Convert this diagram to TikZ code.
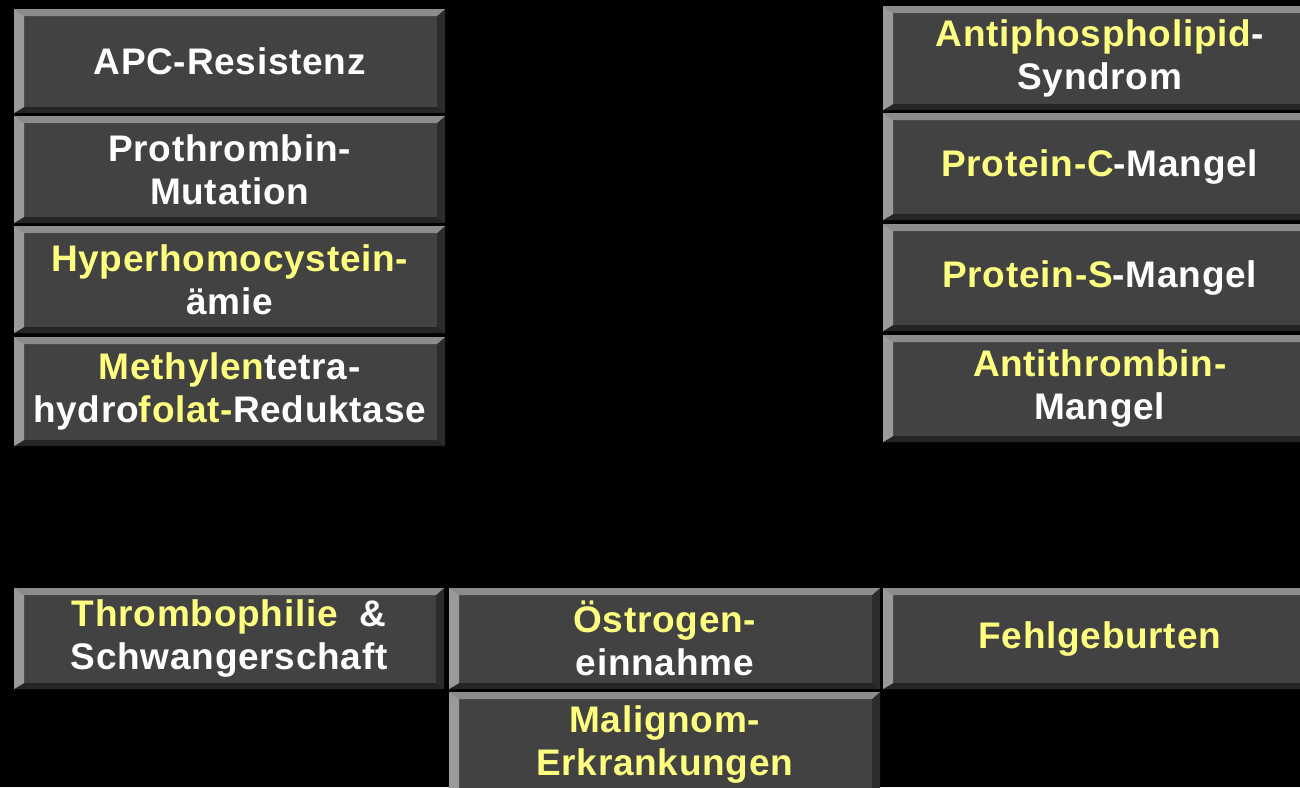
\documentclass[tikz,border=0pt]{standalone}
\usepackage{fontspec}
\newfontfamily\tilefont{Liberation Sans}[LetterSpace=2]
\definecolor{face}{HTML}{424242}
\definecolor{bevtop}{HTML}{8C8C8C}
\definecolor{bevleft}{HTML}{9A9A9A}
\definecolor{bevright}{HTML}{2C2C2C}
\definecolor{bevbot}{HTML}{252525}
\definecolor{ylw}{HTML}{FFFF80}
\newcommand{\yl}[1]{\textcolor{ylw}{#1}}
\tikzset{
  tile/.style={rectangle, fill=face, inner sep=0pt, align=center, text=white,
    font=\tilefont\bfseries\fontsize{37}{43}\selectfont,
    path picture={
      \fill[bevtop] (path picture bounding box.north west) -- (path picture bounding box.north east)
        -- ([xshift=-8pt,yshift=-7pt]path picture bounding box.north east)
        -- ([xshift=10pt,yshift=-7pt]path picture bounding box.north west) -- cycle;
      \fill[bevleft] (path picture bounding box.north west)
        -- ([xshift=10pt,yshift=-7pt]path picture bounding box.north west)
        -- ([xshift=10pt,yshift=6pt]path picture bounding box.south west)
        -- (path picture bounding box.south west) -- cycle;
      \fill[bevright] (path picture bounding box.north east)
        -- ([xshift=-8pt,yshift=-7pt]path picture bounding box.north east)
        -- ([xshift=-8pt,yshift=6pt]path picture bounding box.south east)
        -- (path picture bounding box.south east) -- cycle;
      \fill[bevbot] (path picture bounding box.south west)
        -- ([xshift=10pt,yshift=6pt]path picture bounding box.south west)
        -- ([xshift=-8pt,yshift=6pt]path picture bounding box.south east)
        -- (path picture bounding box.south east) -- cycle;
    }},
  box/.style n args={4}{tile, minimum width=#3-#1, minimum height=#4-#2, anchor=north west}
}
\begin{document}
\begin{tikzpicture}[x=1pt,y=-1pt]
\fill[black] (0,0) rectangle (1300,787);
\useasboundingbox (0,0) rectangle (1300,787);
\clip (0,0) rectangle (1300,787);
% left column
\node[box={14}{9}{445}{113}] (apc) at (14,9) {\raisebox{-3pt}{APC-Resistenz}};
\node[box={14}{116}{445}{223}] (proth) at (14,116) {Prothrombin-\\Mutation};
\node[box={14}{226}{445}{333}] (hyper) at (14,226) {\yl{Hyperhomocystein-}\\ämie};
\node[box={14}{337}{445}{446}] (mthfr) at (14,337) {\yl{Methylen}tetra-\\hydro\yl{folat-}Reduktase};
% right column
\node[box={883}{6}{1316}{110}] (apl) at (883,6) {\yl{Antiphospholipid}-\\Syndrom};
\node[box={883}{113}{1316}{220}] (protc) at (883,113) {\yl{Protein-C}-Mangel};
\node[box={883}{224}{1316}{331}] (prots) at (883,224) {\yl{Protein-S}-Mangel};
\node[box={883}{335}{1316}{442}] (at) at (883,335) {\yl{Antithrombin-}\\Mangel};
% bottom row
\node[box={14}{588}{444}{689}] (ts) at (14,588) {\yl{Thrombophilie}\ \ \&\\Schwangerschaft};
\node[box={449}{588}{880}{689}] (oes) at (449,588) {\yl{Östrogen-}\\einnahme};
\node[box={883}{588}{1316}{689}] (fehl) at (883,588) {\yl{Fehlgeburten}};
\node[box={449}{692}{880}{797}] (mal) at (449,692) {\yl{Malignom-}\\\yl{Erkrankungen}};
\end{tikzpicture}
\end{document}
